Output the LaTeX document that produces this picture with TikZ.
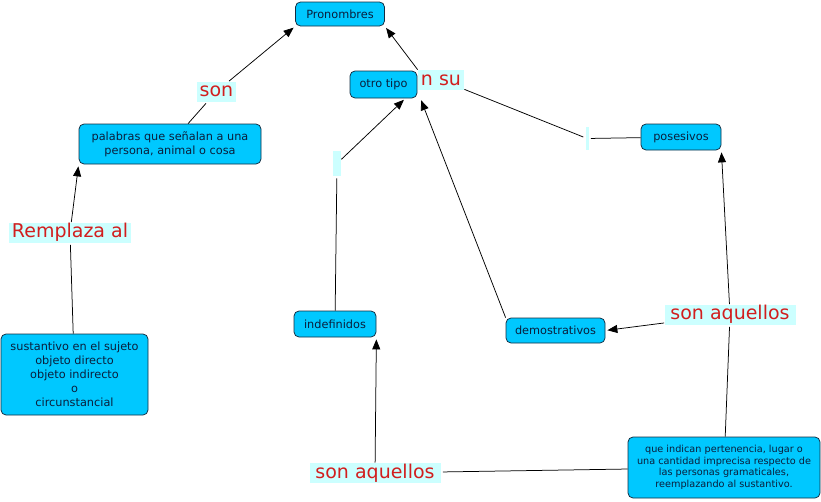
\documentclass[tikz,border=0pt]{standalone}
\usepackage{fontspec}
\setmainfont{DejaVu Sans}
\usetikzlibrary{arrows.meta}
\definecolor{boxblue}{RGB}{0,200,255}
\definecolor{boxline}{RGB}{20,45,65}
\definecolor{boxtext}{RGB}{10,30,60}
\definecolor{labelred}{RGB}{210,30,30}
\definecolor{labelbg}{RGB}{204,255,255}
\begin{document}
\begin{tikzpicture}[x=1pt,y=-1pt,->,>={Triangle[length=10pt,width=8pt]},shorten >=2pt,line width=0.75pt,
    main node/.style={rectangle,rounded corners=5pt,draw=boxline,fill=boxblue,text=boxtext,align=center,inner sep=0pt,font=\fontsize{11.3}{14}\selectfont},
    link node/.style={fill=labelbg,text=labelred,inner xsep=3pt,inner ysep=0pt,minimum height=20,font=\fontsize{19}{21}\selectfont},
    bar node/.style={fill=labelbg,inner sep=0pt}]
            \useasboundingbox (0,0) rectangle (821,501);

            \node [main node, minimum width=89, minimum height=24](1) at (340,14){Pronombres};
            \node [main node, minimum width=67, minimum height=27](2) at (383.5,84.5){otro tipo};
            \node [main node, minimum width=182, minimum height=40](3) at (170,144){palabras que señalan a una\\persona, animal o cosa};
            \node [main node, minimum width=80, minimum height=26](4) at (681,137){posesivos};
            \node [main node, minimum width=82, minimum height=26](5) at (335,324){indefinidos};
            \node [main node, minimum width=99, minimum height=25](6) at (555.5,330.5){demostrativos};
            \node [main node, minimum width=147, minimum height=81](7) at (74.5,374.5){sustantivo en el sujeto\\objeto directo\\objeto indirecto\\o\\circunstancial};
            \node [main node, minimum width=192, minimum height=61, font=\fontsize{9.7}{11.5}\selectfont](8) at (724,467.5){que indican pertenencia, lugar o\\una cantidad imprecisa respecto de\\las personas gramaticales,\\reemplazando al sustantivo.};

            \node [link node](a) at (216.5,91.5){son};
            \node [link node](b) at (70,232.5){Remplaza al};
            \node [link node](c) at (441,80){n su};
            \node [bar node, minimum width=8, minimum height=25](d) at (337,163.5){};
            \node [bar node, minimum width=3, minimum height=23](e) at (587,138.5){};
            \node [link node, minimum width=131](f) at (730,314.5){son aquellos};
            \node [link node, minimum width=131](g) at (375,473){son aquellos};

            \path
                (3) edge[-] (a)
                (a) edge (1.south west)
                (7) edge[-] (b)
                (b) edge (3.south west)
                (c.north west) edge (1.south east)
                (c) edge[-] (e)
                (4) edge[-] (e)
                (5) edge[-] (d)
                (d) edge ([xshift=-12]2.south east)
                (6.north west) edge ([xshift=3]2.south east)
                (8) edge[-] (f)
                (f) edge (6.east)
                (f) edge (4.south east)
                (8) edge[-] (g)
                (g) edge (5.south east)
                ;
        \end{tikzpicture}
\end{document}
